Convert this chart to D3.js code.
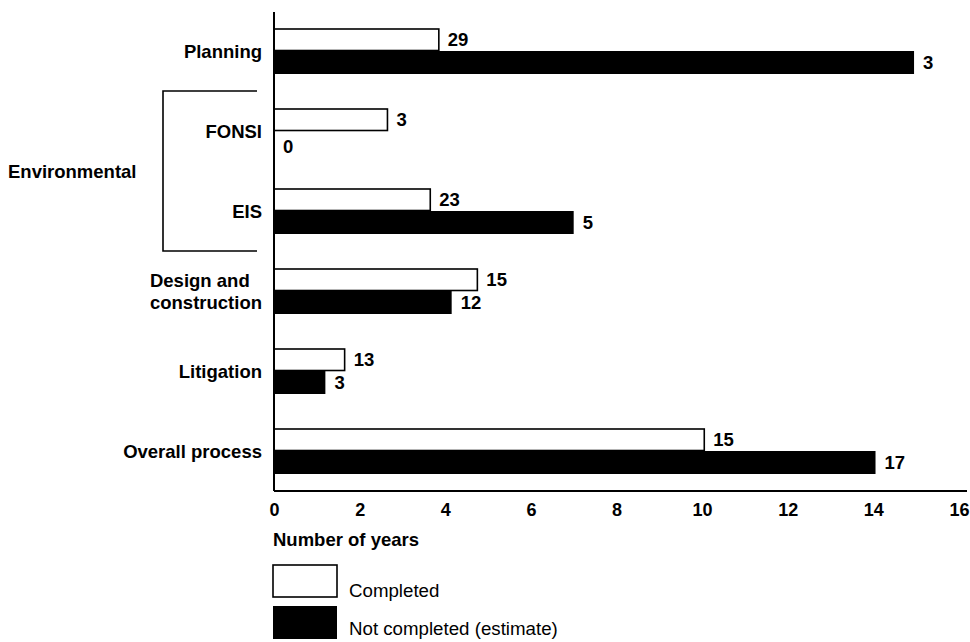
<!DOCTYPE html>
<html>
<head>
<meta charset="utf-8">
<script src="https://cdn.jsdelivr.net/npm/d3@7"></script>
<style>
  body { margin: 0; background: #fff; }
  svg { display: block; font-family: "Liberation Sans", Arial, Helvetica, sans-serif; }
</style>
</head>
<body>
<div id="container"></div>
<script>
let width = 970
let height = 642

// categories, top to bottom
const categories = ["Planning", "FONSI", "EIS", "Design and construction", "Litigation", "Overall process"]
const labelLines = [["Planning"], ["FONSI"], ["EIS"], ["Design and", "construction"], ["Litigation"], ["Overall process"]]
// years (bar length)
const completedYears = [3.85, 2.65, 3.65, 4.75, 1.65, 10.05]
const notCompletedYears = [14.95, 0, 7.0, 4.15, 1.2, 14.05]
// counts printed at the bar ends
const completedCounts = [29, 3, 23, 15, 13, 15]
const notCompletedCounts = [3, 0, 5, 12, 3, 17]
const seriesNames = ["Completed", "Not completed (estimate)"]
const xTicks = [0, 2, 4, 6, 8, 10, 12, 14, 16]
const groupLabel = "Environmental"
const groupMembers = ["FONSI", "EIS"]

margin = ({ top: 11, right: 10, bottom: 151, left: 274 })

let x = d3.scaleLinear()
    .domain([0, 16])
    .range([margin.left, 959])

let y = d3.scaleBand()
    .domain(categories)
    .range([margin.top, height - margin.bottom])

let sub = d3.scaleBand()
    .domain(seriesNames)
    .range([0, 46])

let data = categories.map((c, i) => ({
    cat: c,
    lines: labelLines[i],
    values: [
        { key: seriesNames[0], years: completedYears[i], n: completedCounts[i] },
        { key: seriesNames[1], years: notCompletedYears[i], n: notCompletedCounts[i] }
    ]
}))

let svg = d3.select("#container")
    .append("svg")
    .attr("width", width)
    .attr("height", height)
    .attr("viewBox", [0, 0, width, height])

let groups = svg.append("g")
    .selectAll("g")
    .data(data)
    .join("g")
    .attr("transform", d => `translate(0,${y(d.cat) + y.bandwidth() / 2 - 23})`)

// bars
groups.selectAll("rect")
    .data(d => d.values.filter(v => v.years > 0))
    .join("rect")
    .attr("x", x(0))
    .attr("y", v => sub(v.key) + (v.key === seriesNames[0] ? 1 : 0))
    .attr("width", v => x(v.years) - x(0))
    .attr("height", v => sub.bandwidth() - (v.key === seriesNames[0] ? 1.5 : 0))
    .attr("fill", v => v.key === seriesNames[0] ? "#fff" : "#000")
    .attr("stroke", "#000")
    .attr("stroke-width", v => v.key === seriesNames[0] ? 1.6 : 0)

// value labels
groups.selectAll("text.val")
    .data(d => d.values)
    .join("text")
    .attr("class", "val")
    .attr("x", v => x(v.years) + 9)
    .attr("y", v => sub(v.key) + sub.bandwidth() / 2 + (v.years > 0 ? 0 : 4))
    .attr("dy", "0.36em")
    .attr("font-size", 18.5)
    .attr("font-weight", "bold")
    .text(v => v.n)

// category labels (multi-line ones are a left-aligned block ending at 262)
let catLabels = groups.append("text")
    .attr("text-anchor", "end")
    .attr("font-size", 18.5)
    .attr("font-weight", "bold")

catLabels.selectAll("tspan")
    .data(d => d.lines)
    .join("tspan")
    .attr("x", 262)
    .attr("y", (l, i, nodes) => 23 + (i - (nodes.length - 1) / 2) * 22)
    .attr("dy", "0.36em")
    .text(l => l)

catLabels.filter(d => d.lines.length > 1).each(function () {
    let spans = d3.select(this).selectAll("tspan")
    let w = d3.max(spans.nodes(), n => n.getComputedTextLength())
    d3.select(this).attr("text-anchor", "start")
    spans.attr("x", 262 - w)
})

// y axis line
svg.append("line")
    .attr("x1", x(0)).attr("x2", x(0))
    .attr("y1", 12).attr("y2", height - margin.bottom)
    .attr("stroke", "#000")
    .attr("stroke-width", 2)

// x axis
let xAxis = g => g
    .attr("transform", `translate(0,${height - margin.bottom})`)
    .call(d3.axisBottom(x).tickValues(xTicks).tickSize(0).tickPadding(12))
    .call(g => g.select(".domain").attr("d", `M${x(0)},0H967`).attr("stroke-width", 2))
    .call(g => g.selectAll(".tick text")
        .attr("font-family", "'Liberation Sans Narrow', 'Liberation Sans', Arial, sans-serif")
        .attr("font-size", 18)
        .attr("font-weight", "bold")
        .attr("fill", "#000"))

svg.append("g").call(xAxis)

svg.append("text")
    .attr("x", x(0) - 1)
    .attr("y", 546)
    .attr("font-size", 18.5)
    .attr("font-weight", "bold")
    .text("Number of years")

// environmental bracket
let bTop = y(groupMembers[0])
let bBot = y(groupMembers[1]) + y.bandwidth()
svg.append("path")
    .attr("d", `M257,${bTop}H163V${bBot}H257`)
    .attr("fill", "none")
    .attr("stroke", "#000")
    .attr("stroke-width", 1.6)

svg.append("text")
    .attr("x", 8)
    .attr("y", (bTop + bBot) / 2)
    .attr("dy", "0.36em")
    .attr("font-size", 18.5)
    .attr("font-weight", "bold")
    .text(groupLabel)

// legend
let legend = svg.append("g")
    .selectAll("g")
    .data(seriesNames)
    .join("g")
    .attr("transform", (d, i) => `translate(${x(0) - 1},${565 + i * 40})`)

legend.append("rect")
    .attr("x", 0)
    .attr("y", (d, i) => i ? 1 : 0)
    .attr("width", 64)
    .attr("height", (d, i) => i ? 33 : 32)
    .attr("fill", (d, i) => i ? "#000" : "#fff")
    .attr("stroke", "#000")
    .attr("stroke-width", (d, i) => i ? 0 : 1.6)

legend.append("text")
    .attr("x", 76)
    .attr("y", (d, i) => i ? 30 : 32)
    .attr("font-size", 18.7)
    .text(d => d)
</script>
</body>
</html>
